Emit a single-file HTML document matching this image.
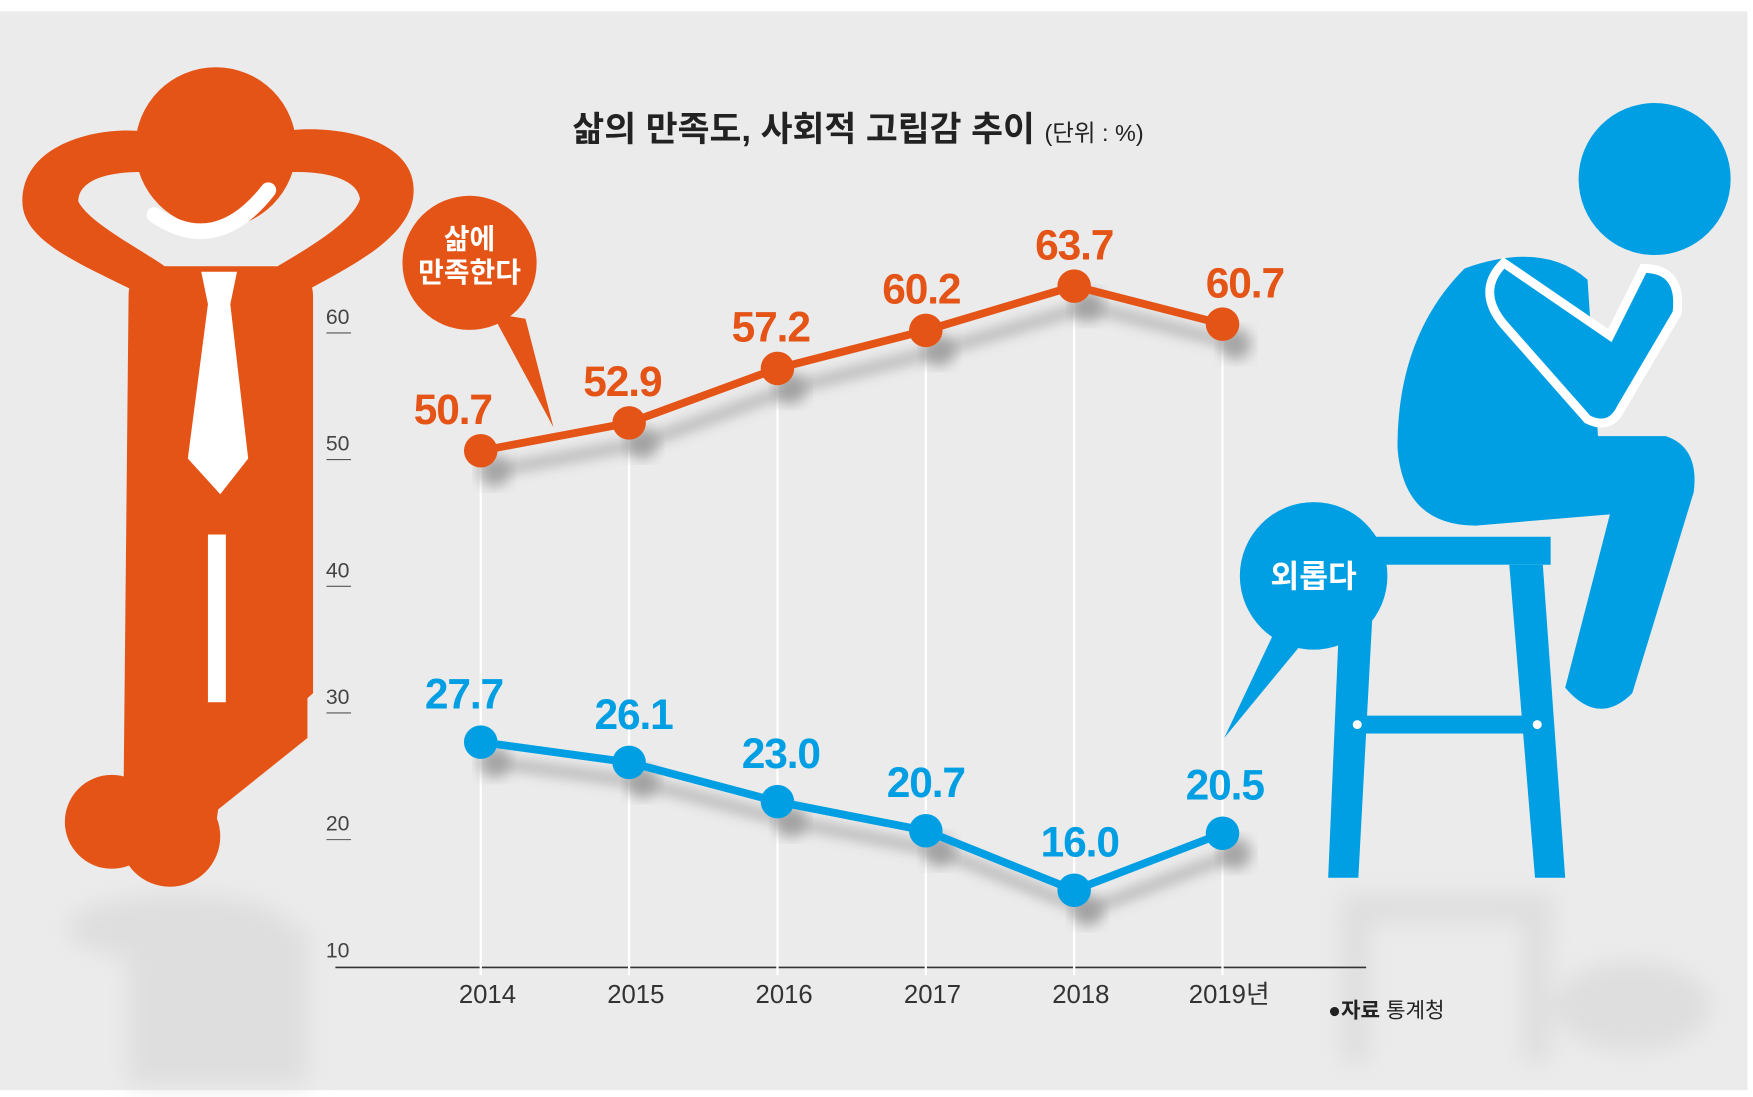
<!DOCTYPE html>
<html><head><meta charset="utf-8">
<style>
html,body{margin:0;padding:0;background:#fff;}
svg{display:block;font-family:"Liberation Sans","Noto Sans CJK KR",sans-serif;}
</style></head>
<body>
<svg id="chart" width="1753" height="1097" viewBox="0 0 1568 981" xmlns="http://www.w3.org/2000/svg">
<defs>
<filter id="blur" x="-20%" y="-20%" width="140%" height="140%"><feGaussianBlur stdDeviation="6"/></filter>
<filter id="blur2" x="-20%" y="-20%" width="140%" height="140%"><feGaussianBlur stdDeviation="10"/></filter>
</defs>
<rect x="0" y="10" width="1563" height="965" fill="#ebebeb"/>
<g fill="#dedede" filter="url(#blur2)">
<ellipse cx="160" cy="830" rx="100" ry="30"/>
<rect x="115" y="830" width="160" height="140"/>
<rect x="1200" y="800" width="190" height="25"/>
<rect x="1200" y="800" width="25" height="150"/>
<rect x="1362" y="800" width="25" height="150"/>
<ellipse cx="1460" cy="900" rx="70" ry="40"/>
</g>
<g fill="#e55417">
<circle cx="193" cy="132" r="72"/>
<path d="M20 180 C20 120 110 110 140 120 L150 155 C100 150 70 160 70 180 C80 200 130 225 150 240 L120 260 C70 235 20 215 20 180Z"/>
<path d="M370 170 C370 120 290 110 250 118 L242 155 C290 150 320 160 322 178 C315 200 270 225 245 240 L270 262 C320 235 370 210 370 170Z"/>
<path d="M115 265 Q115 238 145 238 L245 238 Q280 238 280 265 L280 620 L200 690 L190 760 L110 760 Z"/>
<path d="M190 600 L275 600 L275 660 L150 760 L90 760 Z"/>
<circle cx="100" cy="735" r="42"/>
<circle cx="152" cy="748" r="45"/>
<path d="M138 192 Q193 230 240 170" fill="none" stroke="#fff" stroke-width="14" stroke-linecap="round"/>
<path d="M180 243 L212 243 L206 272 L222 410 L197 442 L168 410 L186 272 Z" fill="#fff"/>
<rect x="186" y="478" width="16" height="150" fill="#fff"/>
</g>
<g fill="#009fe3">
<circle cx="1480" cy="160" r="68"/>
<path d="M1310 240 Q1380 215 1420 250 L1430 400 L1320 470 Q1255 470 1250 400 Q1250 300 1310 240Z"/>
<path d="M1320 390 L1490 390 Q1520 400 1515 440 L1460 620 Q1430 650 1400 615 L1440 460 L1320 470Z"/>
<path d="M1345 235 Q1320 260 1345 290 L1420 375 Q1440 385 1450 365 L1500 280 Q1505 240 1470 240 L1440 300 Z" stroke="#fff" stroke-width="8"/>
<rect x="1190" y="480" width="197" height="25"/>
<path d="M1200 505 L1230 505 L1215 785 L1188 785Z"/>
<path d="M1350 505 L1380 505 L1400 785 L1373 785Z"/>
<rect x="1205" y="640" width="180" height="16"/>
<circle cx="1214" cy="648" r="4" fill="#fff"/><circle cx="1375" cy="648" r="4" fill="#fff"/>
</g>
<text x="512" y="126" font-size="31" font-weight="bold" fill="#222">삶의 만족도, 사회적 고립감 추이 <tspan font-size="21" font-weight="normal">(단위 : %)</tspan></text>
<g id="axes"></g>
<g id="marks"></g>
<g>
<path d="M440 280 L495 382 L470 285Z" fill="#e55417"/>
<circle cx="420" cy="235" r="60" fill="#e55417"/>
<text x="420" y="222" text-anchor="middle" font-size="25" font-weight="bold" fill="#fff">삶에</text>
<text x="420" y="252" text-anchor="middle" font-size="25" font-weight="bold" fill="#fff">만족한다</text>
</g>
<g>
<path d="M1140 565 L1095 660 L1165 575Z" fill="#009fe3"/>
<circle cx="1175" cy="515" r="66" fill="#009fe3"/>
<text x="1175" y="525" text-anchor="middle" font-size="28" font-weight="bold" fill="#fff">외롭다</text>
</g>
<text x="1188" y="910" font-size="19" fill="#222">●<tspan font-weight="bold">자료</tspan> 통계청</text>
</svg>
<script>
const years = ["2014","2015","2016","2017","2018","2019년"];
const satisfied = [50.7,52.9,57.2,60.2,63.7,60.7];
const lonely = [27.7,26.1,23.0,20.7,16.0,20.5];
const yTicks = [10,20,30,40,50,60];

const NS="http://www.w3.org/2000/svg";
function xs(i){return 430+i*132.7;}
function ys(v){return 411-(v-50)*11.33;}
function mk(tag,attrs,parent){const e=document.createElementNS(NS,tag);for(const k in attrs)e.setAttribute(k,attrs[k]);parent.appendChild(e);return e;}
const axes=document.getElementById('axes'), marks=document.getElementById('marks');

yTicks.forEach(t=>{
  const y=ys(t);
  const tl=mk('text',{x:302,y:y-8,'font-size':19,fill:'#444','text-anchor':'middle'},axes);
  
  
  tl.textContent=t;
  if(t>10){const ln=mk('line',{x1:292,x2:314,y1:y,y2:y,stroke:'#555','stroke-width':1},axes);
  
  }
});
const ax=mk('line',{x1:300,x2:1222,y1:ys(10)+1,y2:ys(10)+1,stroke:'#333','stroke-width':1.5},axes);


years.forEach((yr,i)=>{
  const g=mk('line',{x1:xs(i),x2:xs(i),y1:ys(satisfied[i]),y2:ys(10)+8,stroke:'#fff','stroke-width':2},axes);
  
  
  const t=mk('text',{x:xs(i)+6,y:897,'font-size':23,fill:'#333','text-anchor':'middle'},axes);
  
  
  t.textContent=yr;
});

function series(vals,color,name,labDx,labDy){
  const pts=vals.map((v,i)=>xs(i)+','+ys(v)).join(' ');
  const sh=mk('polyline',{points:pts,fill:'none',stroke:'#999','stroke-width':8,transform:'translate(12,18)',filter:'url(#blur)',opacity:0.8},marks);
  
  
  vals.forEach((v,i)=>{const c=mk('circle',{cx:xs(i)+12,cy:ys(v)+18,r:14,fill:'#999',filter:'url(#blur)',opacity:0.8},marks);
    
    });
  const l=mk('polyline',{points:pts,fill:'none',stroke:color,'stroke-width':7},marks);
  
  
  vals.forEach((v,i)=>{
    const c=mk('circle',{cx:xs(i),cy:ys(v),r:15,fill:color},marks);
    
    
    const t=mk('text',{x:xs(i)+labDx[i],y:ys(v)+labDy,'font-size':38,'font-weight':'bold',fill:color,'text-anchor':'middle','letter-spacing':'-1'},marks);
    
    
    t.textContent=v.toFixed(1);
  });
}
series(satisfied,'#e55417','satisfied',[-25,-6,-6,-4,0,20],-24);
series(lonely,'#009fe3','lonely',[-15,4,3,0,5,2],-30);
</script>
</body></html>
